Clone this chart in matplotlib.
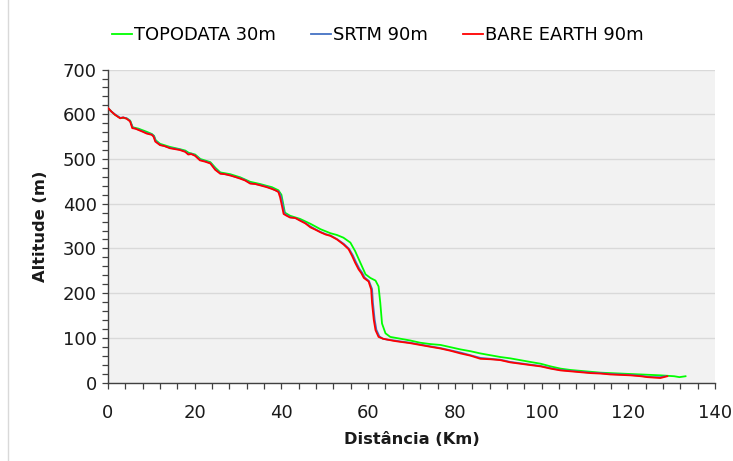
import matplotlib
matplotlib.use("Agg")
import matplotlib.pyplot as plt
from matplotlib.lines import Line2D
from matplotlib.ticker import MultipleLocator

plt.rcParams['font.family'] = ['DejaVu Sans']

# BARE EARTH 90m (red)
bare_x = [0, 0.8, 1.6, 2.8, 3.5, 4.3, 5.1, 5.6, 6.3, 7, 8.0, 8.9, 10.1, 10.5, 10.9, 12, 13.0, 14.3,
          15.5, 16.6, 17.8, 18.5, 19.2, 20.1, 21.2, 22.4, 23.6, 24.7, 25.9, 27.0, 28.2, 29.3, 30.5,
          31.6, 32.8, 34.0, 35.1, 36.6, 37.8, 38.6, 39.3, 39.7, 40.1, 40.5, 41.2, 42, 43.2, 44.3,
          45.5, 46.7, 47.8, 49, 50.2, 51.3, 52.8, 54.3, 55.5, 56.3, 57, 57.8, 58.4, 59, 60.1, 60.7,
          60.9, 61.3, 61.7, 62.4, 63.4, 64.4, 66.0, 67.4, 69.7, 72, 74.3, 76.7, 79.0, 81.3, 83.6,
          85.9, 88.2, 90.5, 92.8, 95.1, 97.4, 99.8, 102.1, 104.4, 106.7, 109, 111.3, 113.6, 115.9,
          118.2, 120.5, 122.9, 124.4, 125.9, 127.4, 129]
bare_y = [614, 606, 599, 591, 593, 590, 584, 569, 568, 565, 561, 557, 554, 550, 539, 531, 529, 524,
          522, 520, 516, 510, 511, 507, 497, 494, 490, 476, 467, 466, 463, 460, 456, 452, 445, 444,
          441, 437, 433, 430, 426, 414, 396, 377, 373, 369, 368, 362, 356, 347, 342, 336, 331, 328,
          320, 309, 298, 283, 268, 253, 245, 234, 226, 208, 178, 140, 117, 102, 98, 96, 93, 91, 88,
          84, 80, 76, 71, 65, 60, 53, 52, 50, 45, 42, 39, 36, 31, 27, 25, 23, 21, 20, 18, 17, 16,
          14, 12, 11, 10, 14]

# SRTM 90m (blue)
srtm_x = [0, 0.8, 1.6, 2.8, 3.5, 4.3, 5.1, 5.7, 6.3, 7, 8.0, 8.9, 10.1, 10.6, 11.0, 12, 13.0, 14.3,
          15.5, 16.6, 17.8, 18.6, 19.2, 20.1, 21.3, 22.4, 23.6, 24.8, 25.9, 27.0, 28.2, 29.3, 30.5,
          31.6, 32.8, 34.0, 35.1, 36.6, 37.8, 38.6, 39.4, 39.9, 40.3, 40.7, 41.3, 42, 43.2, 44.3,
          45.5, 46.7, 47.8, 49, 50.2, 51.3, 52.8, 54.4, 55.6, 56.5, 57.2, 58.0, 58.6, 59.2, 60.2,
          60.9, 61.1, 61.5, 61.9, 62.6, 63.4, 64.4, 66.0, 67.4, 69.7, 72, 74.3, 76.7, 79.0, 81.3,
          83.6, 85.9, 88.2, 90.5, 92.8, 95.1, 97.4, 99.8, 102.1, 104.4, 106.7, 109, 111.3, 113.6,
          115.9, 118.2, 120.5, 122.9, 124.4, 125.9, 127.4, 128.5]
srtm_y = [614, 606, 600, 592, 593, 591, 585, 570, 568, 566, 562, 558, 555, 551, 540, 532, 529, 525,
          523, 521, 517, 511, 512, 508, 498, 495, 491, 477, 468, 466, 464, 460, 457, 453, 446, 444,
          442, 438, 434, 430, 427, 416, 398, 378, 374, 370, 368, 363, 357, 349, 343, 337, 332, 329,
          321, 310, 299, 284, 269, 254, 246, 235, 227, 209, 179, 141, 118, 103, 98, 96, 94, 92, 89,
          85, 81, 77, 72, 67, 61, 55, 53, 51, 46, 43, 40, 37, 32, 28, 26, 24, 22, 21, 19, 18, 17,
          15, 13, 12, 12, 14]

# TOPODATA 30m (green)
topo_x = [0, 0.8, 1.6, 2.8, 4.3, 5.1, 5.7, 7, 8.9, 10.1, 10.6, 11.0, 12, 14.3, 16.6, 17.8, 18.6,
          20.1, 21.3, 23.6, 24.8, 25.9, 28.2, 30.5, 32.8, 35.1, 36.6, 37.8, 39.3, 40.0, 40.4, 40.8,
          42, 44.3, 46.7, 49, 51.3, 52.8, 54.3, 55.9, 57, 58.2, 59.4, 60.5, 61.7, 62.4, 62.8, 63.2,
          64, 65.1, 67.4, 69.7, 72, 74.3, 76.7, 79.0, 81.3, 83.6, 85.9, 88.2, 90.5, 92.8, 95.1, 97.4,
          99.8, 102.1, 104.4, 106.7, 109, 111.3, 113.6, 115.9, 118.2, 120.5, 122.9, 125.2, 127.5,
          129.0, 130.6, 131.8, 133.2]
topo_y = [614, 606, 599, 592, 591, 586, 571, 568, 561, 556, 552, 542, 534, 527, 522, 519, 514, 510,
          500, 493, 480, 470, 466, 459, 449, 444, 440, 437, 430, 420, 400, 380, 373, 366, 355, 343,
          334, 330, 324, 313, 294, 268, 242, 234, 228, 215, 178, 132, 110, 102, 98, 94, 89, 86, 84,
          79, 74, 70, 65, 61, 57, 54, 50, 46, 42, 36, 31, 28, 26, 24, 22, 21, 20, 19, 18, 17, 16,
          15, 14, 12, 14]

fig = plt.figure(figsize=(7.33, 4.61), dpi=100)
ax = fig.add_axes([108 / 733, 1 - 382.5 / 461, (715 - 108) / 733, (382.5 - 69.6) / 461])
ax.set_facecolor('#F2F2F2')

ax.plot(topo_x, topo_y, color='#00FF00', lw=1.3, label='TOPODATA 30m', zorder=3)
ax.plot(srtm_x, srtm_y, color='#4472C4', lw=1.3, label='SRTM 90m', zorder=4)
ax.plot(bare_x, bare_y, color='#FF0000', lw=1.3, label='BARE EARTH 90m', zorder=5)

ax.set_xlim(0, 140)
ax.set_ylim(0, 700)
ax.xaxis.set_major_locator(MultipleLocator(20))
ax.xaxis.set_minor_locator(MultipleLocator(4))
ax.yaxis.set_major_locator(MultipleLocator(100))
ax.yaxis.set_minor_locator(MultipleLocator(20))
ax.grid(axis='y', which='major', color='#D9D9D9', lw=1.0, zorder=0)
ax.set_axisbelow(True)

for s in ['top', 'right']:
    ax.spines[s].set_visible(False)
for s in ['left', 'bottom']:
    ax.spines[s].set_color('#404040')
    ax.spines[s].set_linewidth(1.0)

ax.tick_params(axis='both', which='major', direction='out', length=4.5, width=0.9,
               color='#404040', labelsize=13, labelcolor='#1a1a1a')
ax.tick_params(axis='both', which='minor', direction='out', length=4, width=0.9, color='#404040')
ax.tick_params(axis='x', pad=11)
ax.tick_params(axis='y', pad=3.5)

ax.set_xlabel('Distância (Km)', fontsize=11.7, fontweight='bold', color='#1a1a1a', labelpad=7.5)
ax.set_ylabel('Altitude (m)', fontsize=11.7, fontweight='bold', color='#1a1a1a', labelpad=11)

fig.legend(loc='center', bbox_to_anchor=(377.5 / 733, 1 - 35 / 461), ncol=3, frameon=False,
           fontsize=12.9, handlelength=1.15, handletextpad=0.08, columnspacing=1.95)

fig.add_artist(Line2D([8 / 733, 8 / 733], [0, 1], color='#D9D9D9', lw=1.0,
                      transform=fig.transFigure))

fig.savefig('out.png', dpi=100, facecolor='white')
